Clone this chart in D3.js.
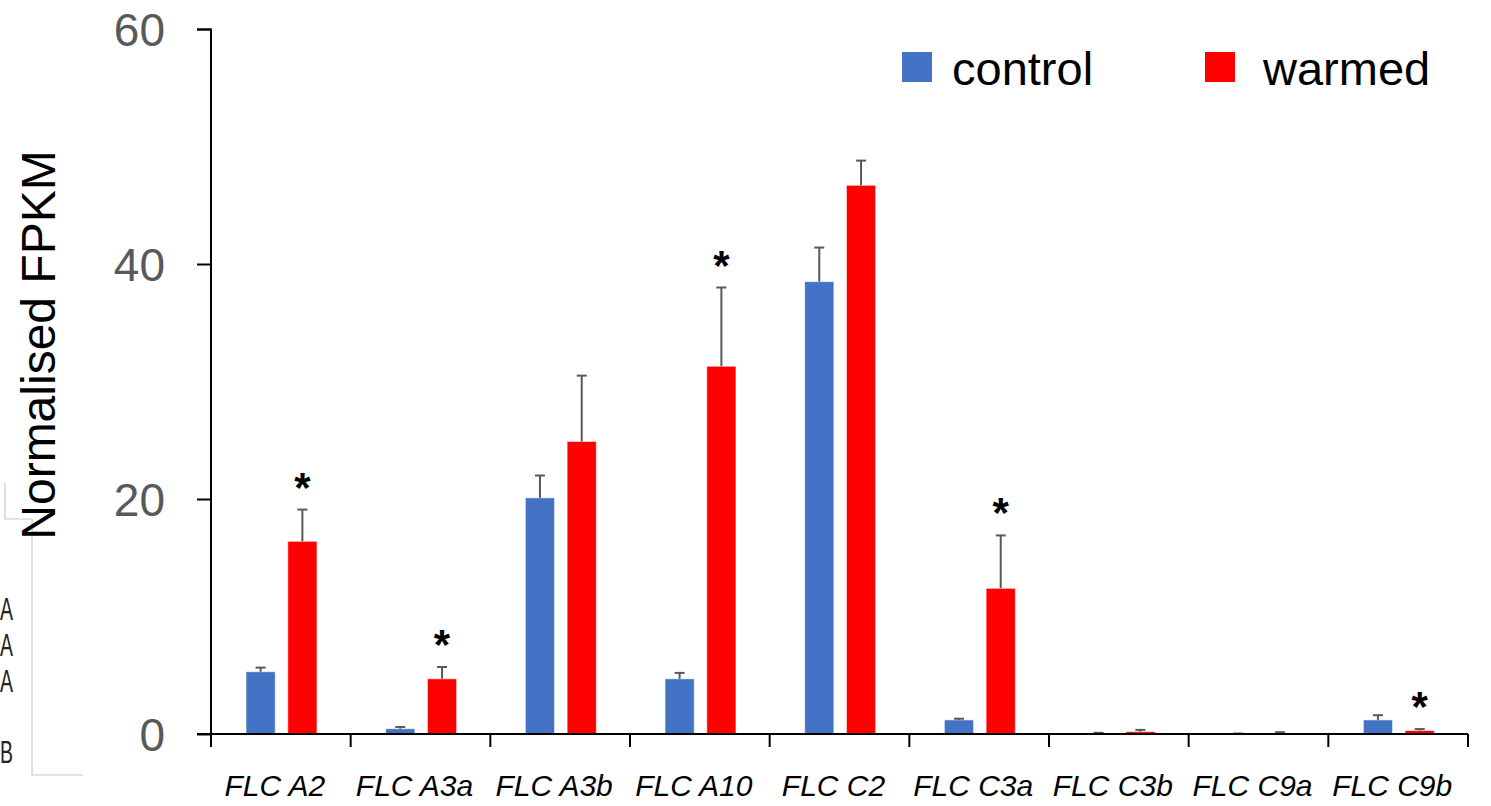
<!DOCTYPE html>
<html>
<head>
<meta charset="utf-8">
<script src="https://cdn.jsdelivr.net/npm/d3@7"></script>
<style>
  html, body { margin: 0; padding: 0; background: #fff; }
  svg { display: block; }
</style>
</head>
<body>
<svg id="chart" width="1491" height="806"></svg>
<script>
// FLC paralogue expression, control vs warmed
const genes = ["FLC A2", "FLC A3a", "FLC A3b", "FLC A10", "FLC C2", "FLC C3a", "FLC C3b", "FLC C9a", "FLC C9b"];
const controlMean = [5.3, 0.45, 20.1, 4.7, 38.5, 1.2, 0.05, 0.02, 1.2];
const controlErr  = [0.35, 0.15, 1.9, 0.5, 2.9, 0.1, 0.05, 0.02, 0.4];
const warmedMean  = [16.4, 4.7, 24.9, 31.3, 46.7, 12.4, 0.2, 0.07, 0.3];
const warmedErr   = [2.7, 1.0, 5.6, 6.7, 2.1, 4.5, 0.15, 0.08, 0.12];
const significant = [true, true, false, true, false, true, false, false, true];
const yTicks = [0, 20, 40, 60];
const seriesNames = ["control", "warmed"];
const seriesColors = ["#4472C4", "#FF0000"];
const fragmentLabels = ["A", "A", "A", "B"];

const svg = d3.select("#chart");
const FONT = "Liberation Sans, Arial, sans-serif";

const x = d3.scaleBand().domain(genes).range([211, 1468]);
const x1 = d3.scaleBand().domain(seriesNames).range([35, 106]).paddingInner(0.3);
const y = d3.scaleLinear().domain([0, 60]).range([734, 29]);

// stray panel fragment at the left edge
const frag = svg.append("g");
frag.append("path")
  .attr("d", "M5,483 V519 H32 V775 H83")
  .attr("fill", "none").attr("stroke", "#c8c8c8").attr("stroke-width", 1.2);
const fragY = d3.scalePoint().domain(d3.range(3)).range([620, 692]);
frag.selectAll("text").data(fragmentLabels).join("text")
  .attr("x", 0)
  .attr("y", (d, i) => i < 3 ? fragY(i) : 763)
  .attr("font-family", FONT).attr("font-size", 31)
  .attr("textLength", 13).attr("lengthAdjust", "spacingAndGlyphs")
  .attr("fill", "#222").text(d => d);

// bars with error bars
const groups = svg.append("g").selectAll("g").data(genes).join("g")
  .attr("transform", d => `translate(${x(d)},0)`);

groups.each(function (g, i) {
  const grp = d3.select(this);
  const rows = [
    { s: "control", v: controlMean[i], e: controlErr[i], c: seriesColors[0] },
    { s: "warmed", v: warmedMean[i], e: warmedErr[i], c: seriesColors[1] }
  ];
  rows.forEach(r => {
    const bx = x1(r.s), bw = x1.bandwidth();
    grp.append("rect")
      .attr("x", bx).attr("width", bw)
      .attr("y", y(r.v)).attr("height", y(0) - y(r.v))
      .attr("fill", r.c)
      .attr("stroke", "rgba(255,255,255,0.6)").attr("stroke-width", 1);
    const cx = bx + bw / 2;
    grp.append("line").attr("x1", cx).attr("x2", cx)
      .attr("y1", y(r.v)).attr("y2", y(r.v + r.e))
      .attr("stroke", "#595959").attr("stroke-width", 2);
    grp.append("line").attr("x1", cx - 5).attr("x2", cx + 5)
      .attr("y1", y(r.v + r.e)).attr("y2", y(r.v + r.e))
      .attr("stroke", "#595959").attr("stroke-width", 2);
  });
  if (significant[i]) {
    const r = rows[1];
    grp.append("text")
      .attr("x", x1("warmed") + x1.bandwidth() / 2)
      .attr("y", y(r.v + r.e) - 8)
      .attr("text-anchor", "middle")
      .attr("font-family", FONT).attr("font-weight", "bold")
      .attr("font-size", 42).attr("fill", "#000").text("*");
  }
});

// y axis
const yAxis = svg.append("g").attr("transform", "translate(211,0)")
  .call(d3.axisLeft(y).tickValues(yTicks).tickSize(14).tickPadding(32).tickSizeOuter(0));
yAxis.select(".domain").attr("stroke", "#000").attr("stroke-width", 2)
  .attr("d", "M-14,29.5H0V746");
yAxis.selectAll(".tick line").attr("stroke", "#000").attr("stroke-width", 2);
yAxis.selectAll(".tick text")
  .attr("font-family", FONT)
  .attr("font-size", 46).attr("fill", "#595959").attr("dy", "0.35em");

// x axis with category boundary ticks
const xAxis = svg.append("g").attr("transform", "translate(0,734)");
xAxis.append("line").attr("x1", 197).attr("x2", 1468).attr("y1", 0).attr("y2", 0)
  .attr("stroke", "#000").attr("stroke-width", 2);
const bounds = genes.map(g => x(g)).concat([x.range()[1]]);
xAxis.selectAll("line.b").data(bounds).join("line").attr("class", "b")
  .attr("x1", d => d).attr("x2", d => d).attr("y1", 0).attr("y2", 13)
  .attr("stroke", "#000").attr("stroke-width", 2);
xAxis.selectAll("text").data(genes).join("text")
  .attr("x", d => x(d) + x.bandwidth() / 2 - 6)
  .attr("y", 62)
  .attr("text-anchor", "middle")
  .attr("font-family", FONT)
  .attr("font-style", "italic")
  .attr("font-size", 30).attr("fill", "#000")
  .text(d => d);

// y title
svg.append("text")
  .attr("transform", "translate(55,345) rotate(-90)")
  .attr("text-anchor", "middle")
  .attr("font-family", FONT)
  .attr("font-size", 48).attr("fill", "#000")
  .text("Normalised FPKM");

// legend
const legend = svg.append("g");
const legendX = [902, 1205];
const legendGap = [50, 58];
seriesNames.forEach((s, i) => {
  legend.append("rect").attr("x", legendX[i]).attr("y", 52)
    .attr("width", 30).attr("height", 30).attr("fill", seriesColors[i]);
  legend.append("text").attr("x", legendX[i] + legendGap[i]).attr("y", 85)
    .attr("font-family", FONT)
    .attr("font-size", 47).attr("fill", "#000").text(s);
});
</script>
</body>
</html>
